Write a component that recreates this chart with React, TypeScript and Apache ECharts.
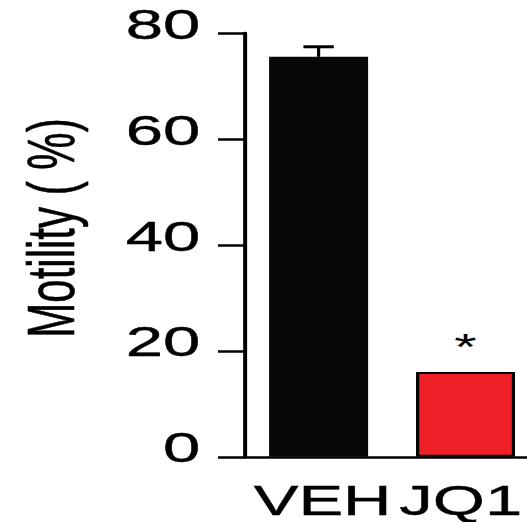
import React, { useEffect, useRef } from "react";
import * as echarts from "echarts";

// Sperm motility by treatment group
const categories = ["VEH", "JQ1"];
const motility = [75.5, 16];
const motilitySem = [1.9, 0];
const significance = ["", "*"];
const barColors = ["#050807", "#ed1f27"];
const yMax = 80;
const yStep = 20;

// The chart is laid out at a narrow width and stretched horizontally.
const SCALE_X = 527 / 330;
const INNER_W = 338;
const OUTER_W = 527;
const H = 522;
const FONT = "'Liberation Sans', Arial, sans-serif";
// Thin outline so the lettering reads a little heavier
const INK = { color: "#000", textBorderColor: "#000", textBorderWidth: 0.4 };

export default function App() {
  const ref = useRef<HTMLDivElement>(null);

  useEffect(() => {
    if (!ref.current) return;
    const chart = echarts.init(ref.current, undefined, { renderer: "svg" });

    const errData = motility.map((v, i) => [i, v, motilitySem[i]]);

    chart.setOption({
      animation: false,
      backgroundColor: "#ffffff",
      grid: { left: 153.5, right: 0.5, top: 33, bottom: 63, containLabel: false },
      xAxis: {
        type: "category",
        data: categories,
        axisLine: { show: true, lineStyle: { color: "#000", width: 2.5 } },
        axisTick: { show: false },
        axisLabel: {
          interval: 0,
          ...INK,
          fontFamily: FONT,
          fontSize: 42,
          lineHeight: 30,
          margin: 29,
          formatter: (v: string, i: number) => (i === 0 ? `{a|${v}}` : `{b|${v}}`),
          rich: {
            a: { ...INK, fontFamily: FONT, fontSize: 42, lineHeight: 30, padding: [0, 0, 0, 5] },
            b: { ...INK, fontFamily: FONT, fontSize: 42, lineHeight: 30, padding: [0, 6, 0, 0] },
          },
        },
      },
      yAxis: {
        type: "value",
        min: 0,
        max: yMax,
        interval: yStep,
        splitLine: { show: false },
        axisLine: { show: true, lineStyle: { color: "#000", width: 2.5 } },
        axisTick: { show: true, length: 17, lineStyle: { color: "#000", width: 2.5 } },
        axisLabel: {
          ...INK,
          fontFamily: FONT,
          fontSize: 42,
          margin: 28,
          verticalAlign: "bottom",
          lineHeight: 18,
        },
      },
      graphic: [
        {
          type: "text",
          x: 32,
          y: 228,
          rotation: Math.PI / 2,
          style: {
            text: "Motility ( %)",
            fontFamily: FONT,
            fontSize: 42,
            fill: "#000",
            stroke: "#000",
            lineWidth: 0.4,
            align: "center",
            verticalAlign: "middle",
          },
        },
      ],
      series: [
        {
          type: "bar",
          barWidth: 62,
          data: motility.map((v, i) => ({
            value: v,
            itemStyle: {
              color: barColors[i],
              borderColor: "#000",
              borderWidth: i === 0 ? 0 : 2,
            },
            label: {
              show: significance[i] !== "",
              position: "top",
              distance: 6,
              formatter: significance[i],
              fontFamily: FONT,
              fontSize: 36,
              color: "#000",
            },
          })),
        },
        {
          type: "custom",
          data: errData,
          z: 5,
          renderItem: (params: any, api: any) => {
            const idx = api.value(0);
            const val = api.value(1);
            const err = api.value(2);
            if (!err) return { type: "group", children: [] };
            const base = api.coord([idx, val]);
            const top = api.coord([idx, val + err]);
            const half = 9.5;
            return {
              type: "group",
              children: [
                {
                  type: "line",
                  shape: { x1: base[0], y1: base[1], x2: top[0], y2: top[1] },
                  style: { stroke: "#000", lineWidth: 2 },
                },
                {
                  type: "line",
                  shape: { x1: top[0] - half, y1: top[1], x2: top[0] + half, y2: top[1] },
                  style: { stroke: "#000", lineWidth: 3 },
                },
              ],
            };
          },
        },
      ],
    });

    return () => chart.dispose();
  }, []);

  return (
    <div
      style={{
        position: "absolute",
        left: 0,
        top: 0,
        width: OUTER_W,
        height: H,
        overflow: "hidden",
        background: "#fff",
      }}
    >
      <div
        ref={ref}
        style={{
          width: INNER_W,
          height: H,
          transform: `scaleX(${SCALE_X})`,
          transformOrigin: "0 0",
        }}
      />
    </div>
  );
}
